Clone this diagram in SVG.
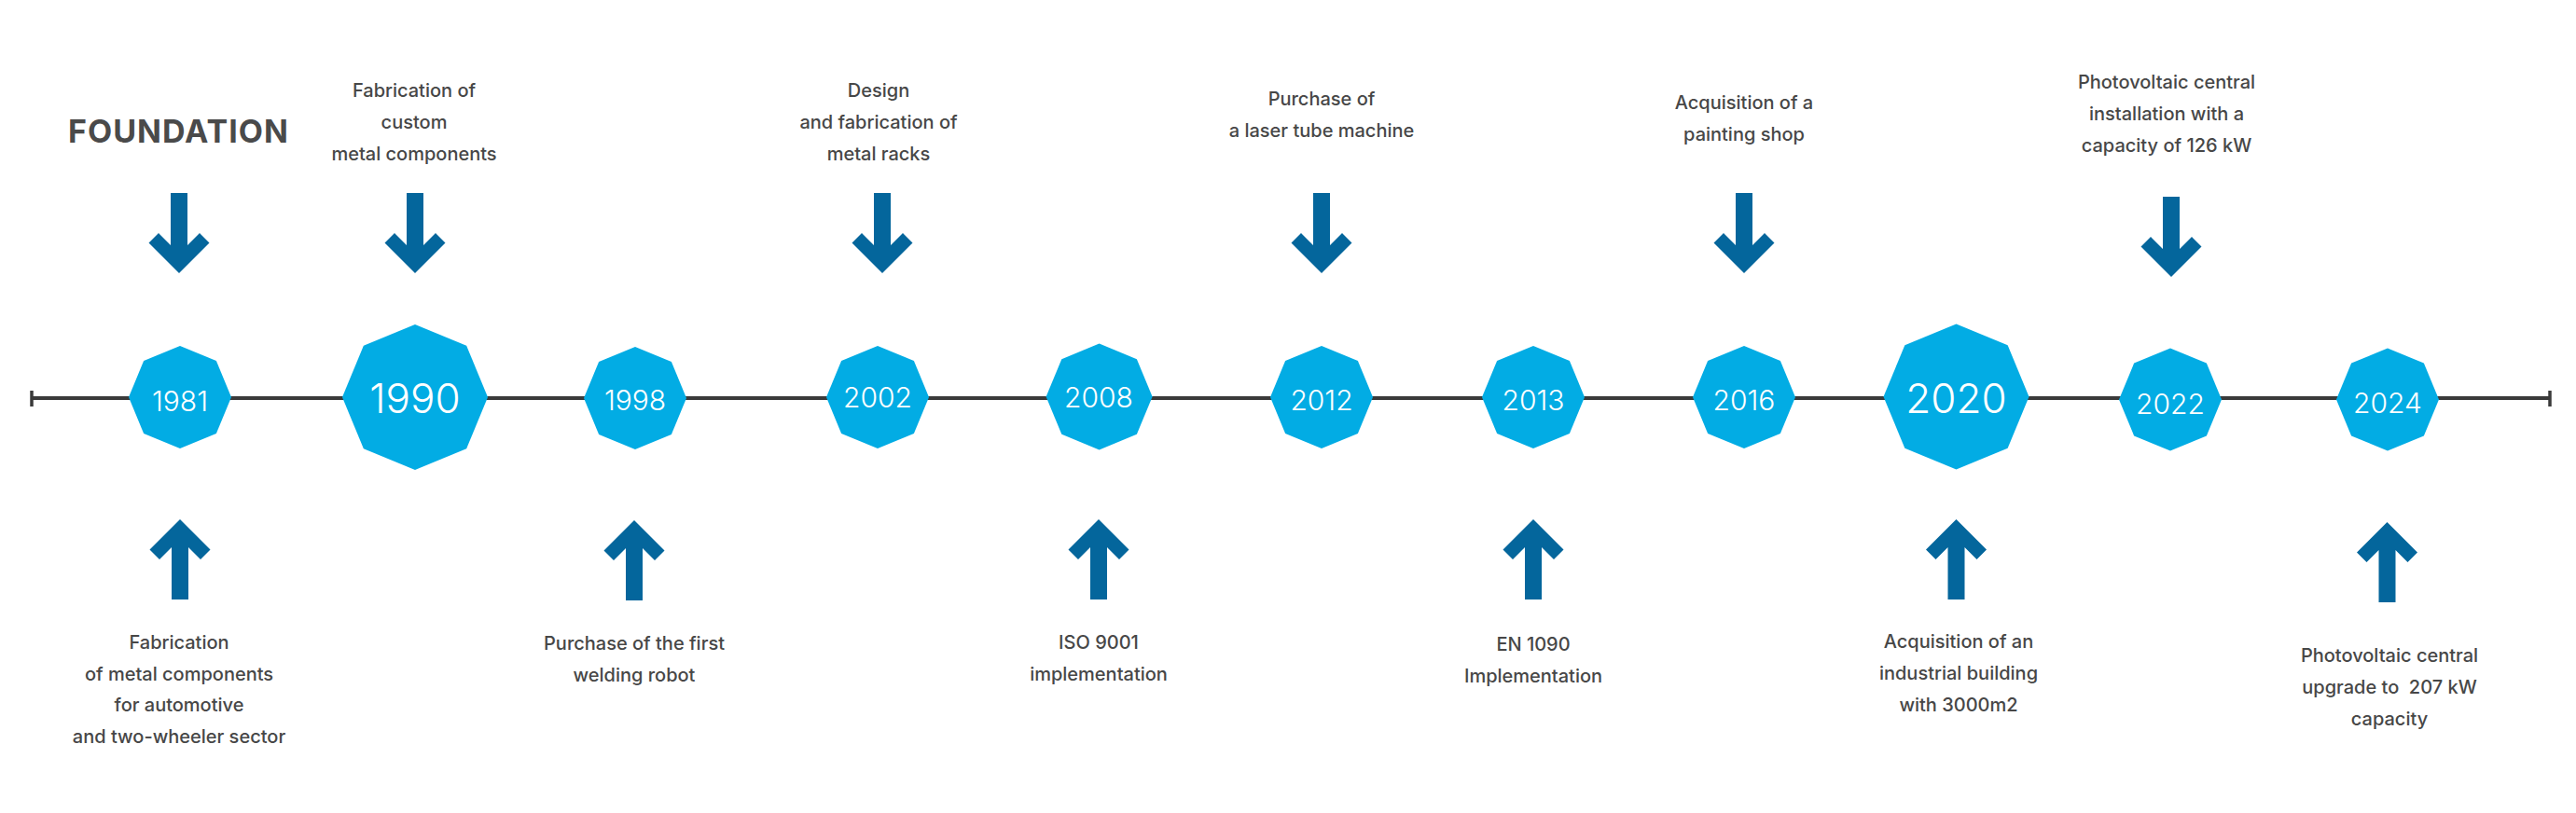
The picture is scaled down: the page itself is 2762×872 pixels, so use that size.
<svg xmlns="http://www.w3.org/2000/svg" xmlns:xlink="http://www.w3.org/1999/xlink" width="2762" height="872" viewBox="0 0 2762 872">
<style>
.oct{fill:#02ace4}
.yr{fill:#ffffff;font-family:Inter,"Noto Sans","Liberation Sans",sans-serif;font-weight:300;font-size:30px;text-anchor:middle}
.yrL{font-size:44px}
.lbl{fill:#474747;font-family:Inter,"Noto Sans","Liberation Sans",sans-serif;font-weight:500;font-size:20px;text-anchor:middle}
.title{fill:#4a4a4a;font-family:Inter,"Noto Sans","Liberation Sans",sans-serif;font-weight:700;font-size:34px;letter-spacing:1px}
.arr{fill:#04669c}
.tl{stroke:#3a3a3a;stroke-width:4;fill:none}
.tick{stroke:#3a3a3a;stroke-width:3.5;fill:none}
</style>
<defs>
<polygon id="octS" points="55,0 38.89,38.89 0,55 -38.89,38.89 -55,0 -38.89,-38.89 0,-55 38.89,-38.89"/>
<polygon id="octL" points="78,0 55.15,55.15 0,78 -55.15,55.15 -78,0 -55.15,-55.15 0,-78 55.15,-55.15"/>
<path id="down" d="M-9,-86 H9 V-30 L22,-43 L32.5,-32.5 L0,0 L-32.5,-32.5 L-22,-43 L-9,-30 Z"/>
<path id="up" d="M-9,86 H9 V30 L22,43 L32.5,32.5 L0,0 L-32.5,32.5 L-22,43 L-9,30 Z"/>
</defs>
<rect width="2762" height="872" fill="#ffffff"/>
<g id="connectors">
<line class="tl" x1="34" y1="427" x2="2734" y2="427"/>
<line class="tick" x1="34" y1="419" x2="34" y2="436"/>
<line class="tick" x1="2734" y1="419" x2="2734" y2="436"/>
</g>
<g id="foundation-title">
<text class="title" x="73" y="153">FOUNDATION</text>
</g>
<g id="node-1981">
<use href="#octS" class="oct" x="193" y="426"/>
<text class="yr" x="193" y="441">1981</text>
<use href="#down" class="arr" x="192" y="293"/>
<use href="#up" class="arr" x="193" y="557"/>
<text class="lbl" x="192" y="696">Fabrication</text>
<text class="lbl" x="192" y="730">of metal components</text>
<text class="lbl" x="192" y="763">for automotive</text>
<text class="lbl" x="192" y="797">and two-wheeler sector</text>
</g>
<g id="node-1990">
<use href="#octL" class="oct" x="445" y="426"/>
<text class="yr yrL" x="445" y="443">1990</text>
<use href="#down" class="arr" x="445" y="293"/>
<text class="lbl" x="444" y="104">Fabrication of</text>
<text class="lbl" x="444" y="138">custom</text>
<text class="lbl" x="444" y="172">metal components</text>
</g>
<g id="node-1998">
<use href="#octS" class="oct" x="681" y="427"/>
<text class="yr" x="681" y="440">1998</text>
<use href="#up" class="arr" x="680" y="558"/>
<text class="lbl" x="680" y="697">Purchase of the first</text>
<text class="lbl" x="680" y="731">welding robot</text>
</g>
<g id="node-2002">
<use href="#octS" class="oct" x="941" y="426"/>
<text class="yr" x="941" y="437">2002</text>
<use href="#down" class="arr" x="946" y="293"/>
<text class="lbl" x="942" y="104">Design</text>
<text class="lbl" x="942" y="138">and fabrication of</text>
<text class="lbl" x="942" y="172">metal racks</text>
</g>
<g id="node-2008">
<use href="#octS" class="oct" transform="translate(1178.6,425.5) scale(1.036)"/>
<text class="yr" x="1178" y="437">2008</text>
<use href="#up" class="arr" x="1178" y="557"/>
<text class="lbl" x="1178" y="696">ISO 9001</text>
<text class="lbl" x="1178" y="730">implementation</text>
</g>
<g id="node-2012">
<use href="#octS" class="oct" x="1417" y="426"/>
<text class="yr" x="1417" y="440">2012</text>
<use href="#down" class="arr" x="1417" y="293"/>
<text class="lbl" x="1417" y="113">Purchase of</text>
<text class="lbl" x="1417" y="147">a laser tube machine</text>
</g>
<g id="node-2013">
<use href="#octS" class="oct" x="1644" y="426"/>
<text class="yr" x="1644" y="440">2013</text>
<use href="#up" class="arr" x="1644" y="557"/>
<text class="lbl" x="1644" y="698">EN 1090</text>
<text class="lbl" x="1644" y="732">Implementation</text>
</g>
<g id="node-2016">
<use href="#octS" class="oct" x="1870" y="426"/>
<text class="yr" x="1870" y="440">2016</text>
<use href="#down" class="arr" x="1870" y="293"/>
<text class="lbl" x="1870" y="117">Acquisition of a</text>
<text class="lbl" x="1870" y="151">painting shop</text>
</g>
<g id="node-2020">
<use href="#octL" class="oct" x="2097.5" y="425.5"/>
<text class="yr yrL" x="2097.5" y="443">2020</text>
<use href="#up" class="arr" x="2097.5" y="557"/>
<text class="lbl" x="2100" y="695">Acquisition of an</text>
<text class="lbl" x="2100" y="729">industrial building</text>
<text class="lbl" x="2100" y="763">with 3000m2</text>
</g>
<g id="node-2022">
<use href="#octS" class="oct" x="2327" y="428.5"/>
<text class="yr" x="2327" y="444">2022</text>
<use href="#down" class="arr" x="2328" y="297"/>
<text class="lbl" x="2323" y="95">Photovoltaic central</text>
<text class="lbl" x="2323" y="129">installation with a</text>
<text class="lbl" x="2323" y="163">capacity of 126 kW</text>
</g>
<g id="node-2024">
<use href="#octS" class="oct" x="2560" y="428.5"/>
<text class="yr" x="2560" y="443">2024</text>
<use href="#up" class="arr" x="2559.5" y="560"/>
<text class="lbl" x="2562" y="710">Photovoltaic central</text>
<text class="lbl" x="2562" y="744" style="white-space:pre">upgrade to  207 kW</text>
<text class="lbl" x="2562" y="778">capacity</text>
</g>
</svg>
